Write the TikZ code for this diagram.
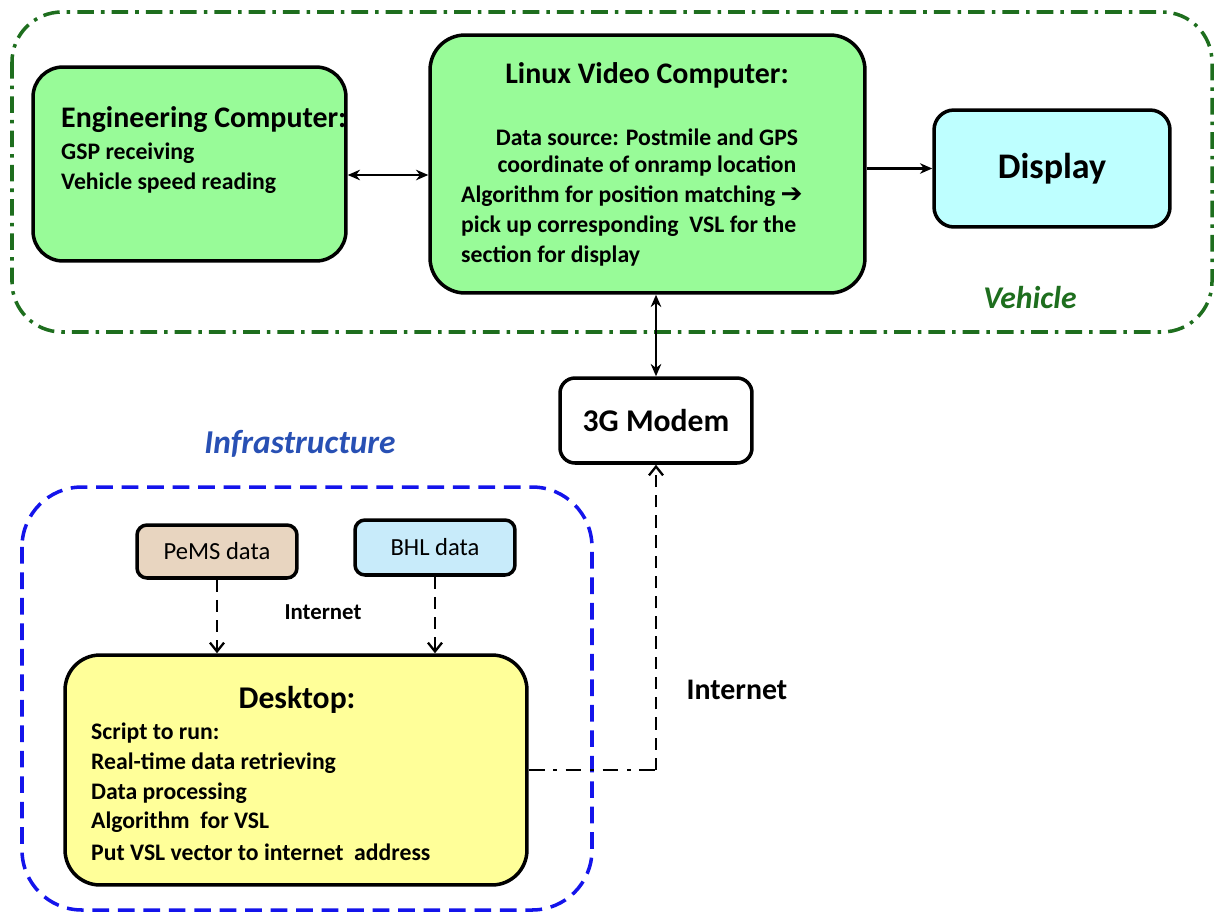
\documentclass[tikz,border=0pt]{standalone}
\usepackage{fontspec}
\setmainfont{Carlito}
\newfontfamily\dingfont{DejaVu Sans}
\usetikzlibrary{arrows.meta}

\definecolor{pcgreen}{RGB}{152,251,152}
\definecolor{dispcyan}{RGB}{190,255,255}
\definecolor{pemstan}{RGB}{232,213,192}
\definecolor{bhlblue}{RGB}{200,235,250}
\definecolor{deskyellow}{RGB}{255,255,153}
\definecolor{vehgreen}{RGB}{30,110,30}
\definecolor{infblue}{RGB}{20,20,235}
\definecolor{inflabel}{RGB}{40,80,180}

\newcommand{\bodyfont}{\fontsize{13.5}{17}\selectfont\bfseries}
\newcommand{\headfont}{\fontsize{17}{20}\selectfont\bfseries}

\tikzset{
  box/.style={draw, line width=2pt, inner sep=0pt},
  link/.style={line width=1.6pt},
  solidtip/.style={-{Stealth[length=7pt,width=6pt]}},
  bothtip/.style={{Stealth[length=7pt,width=6pt]}-{Stealth[length=7pt,width=6pt]}},
  opentip/.style={-{Straight Barb[length=5pt,width=8pt,line width=1.3pt]}},
  dashlink/.style={link, dash pattern=on 7pt off 4.5pt},
}

\begin{document}
\begin{tikzpicture}[x=0.02cm, y=-0.02cm]
    \useasboundingbox (0,0) rectangle (1214,913);

    % vehicle region
    \draw [vehgreen, line width=2pt, rounded corners=1cm,
           dash pattern=on 9.5pt off 4pt on 2pt off 4pt] (12,12) rectangle (1212,332);
    \node (vehlabel) [text=vehgreen, font=\fontsize{18}{20}\selectfont\bfseries\itshape] at (1030,298) {Vehicle};

    % engineering computer
    \node (eng) [box, fill=pcgreen, rounded corners=0.6cm, minimum width=6.26cm, minimum height=3.88cm] at (189.5,164) {};
    \node (engtitle) [anchor=west] at (55,120) {\headfont Engineering Computer:};
    \node (eng1) [anchor=west] at (55,153) {\bodyfont GSP receiving};
    \node (eng2) [anchor=west] at (55,183) {\bodyfont Vehicle speed reading};

    % linux video computer
    \node (lvc) [box, fill=pcgreen, rounded corners=0.7cm, minimum width=8.7cm, minimum height=5.16cm] at (647.5,164) {};
    \node (lvctitle) at (647,75) {\headfont Linux Video Computer:};
    \node (lvc1) at (647,137) {\bodyfont Data source: Postmile and GPS};
    \node (lvc2) at (647,166) {\bodyfont coordinate of onramp location};
    \node (lvc3) [anchor=west] at (455,196) {\bodyfont Algorithm for position matching {\dingfont\bfseries\fontsize{15}{17}\selectfont ➔}};
    \node (lvc4) [anchor=west] at (455,226) {\bodyfont pick up corresponding\ \ VSL for the};
    \node (lvc5) [anchor=west] at (455,256) {\bodyfont section for display};

    % display
    \node (disp) [box, fill=dispcyan, rounded corners=0.4cm, minimum width=4.72cm, minimum height=2.34cm] at (1052,168.5)
        {\fontsize{20.5}{24}\selectfont\bfseries Display};

    % eng <-> lvc -> display
    \draw [link, bothtip] ([yshift=-0.22cm]eng.east) -- ([yshift=-0.22cm]lvc.west);
    \draw [link, solidtip] (lvc.east |- disp.west) -- (disp.west);

    % 3g modem
    \node (modem) [box, fill=white, rounded corners=0.3cm, minimum width=3.84cm, minimum height=1.7cm] at (656,420.5)
        {\fontsize{18}{20}\selectfont\bfseries 3G Modem};
    \draw [link, bothtip] (modem.north |- lvc.south) -- (modem.north);

    % infrastructure region
    \node (inflabel) [text=inflabel, font=\fontsize{19}{22}\selectfont\bfseries\itshape] at (300,444) {Infrastructure};
    \draw [infblue, line width=2pt, rounded corners=1.2cm,
           dash pattern=on 9.5pt off 5pt] (22,487) rectangle (592,910);

    % data sources
    \node (pems) [box, fill=pemstan, rounded corners=0.2cm, minimum width=3.2cm, minimum height=1.06cm] at (217,551.5)
        {\fontsize{14}{16}\selectfont PeMS data};
    \node (bhl) [box, fill=bhlblue, rounded corners=0.2cm, minimum width=3.2cm, minimum height=1.1cm] at (435,547.5)
        {\fontsize{14}{16}\selectfont BHL data};
    \node (net1) at (323,612) {\fontsize{13}{15}\selectfont\bfseries Internet};

    % desktop
    \node (desk) [box, fill=deskyellow, rounded corners=0.7cm, minimum width=9.24cm, minimum height=4.6cm] at (296,770) {};
    \node (desktitle) at (297,700) {\fontsize{18}{20}\selectfont\bfseries Desktop:};
    \node (desk1) [anchor=west] at (85,733) {\bodyfont Script to run:};
    \node (desk2) [anchor=west] at (85,763) {\bodyfont Real-time data retrieving};
    \node (desk3) [anchor=west] at (85,793) {\bodyfont Data processing};
    \node (desk4) [anchor=west] at (85,822) {\bodyfont Algorithm\ \ for VSL};
    \node (desk5) [anchor=west] at (85,852) {\bodyfont Put VSL vector to internet\ \ address};

    % data -> desktop
    \draw [dashlink, opentip] (pems.south) -- (pems.south |- desk.north);
    \draw [dashlink, opentip] (bhl.south) -- (bhl.south |- desk.north);

    % desktop -> modem
    \coordinate (turn) at (modem.south |- desk.east);
    \draw [link, dash pattern=on 9pt off 5pt on 2pt off 5pt] (desk.east) -- (turn);
    \draw [dashlink, opentip] (turn) -- (modem.south);
    \node (net2) at (737,690) {\fontsize{17}{20}\selectfont\bfseries Internet};

\end{tikzpicture}
\end{document}
